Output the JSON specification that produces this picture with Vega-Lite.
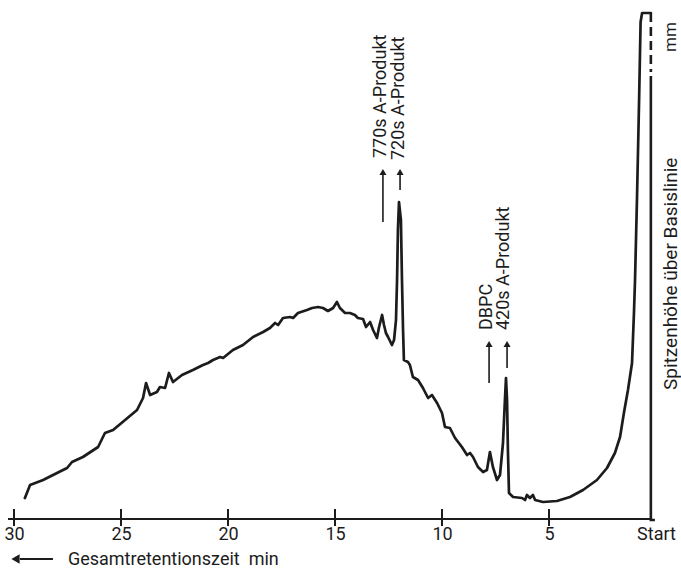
{
  "$schema": "https://vega.github.io/schema/vega-lite/v6.json",
  "width": 642,
  "height": 510,
  "autosize": "none",
  "padding": {"left": 14, "top": 9, "right": 25, "bottom": 51},
  "background": "white",
  "config": {"view": {"stroke": null}, "font": "Roboto"},
  "datasets": {
    "curve": [
      {"t": 29.49, "v": 21}, {"t": 29.25, "v": 34}, {"t": 28.64, "v": 39}, {"t": 27.99, "v": 46},
      {"t": 27.52, "v": 51}, {"t": 27.29, "v": 57}, {"t": 26.78, "v": 62}, {"t": 26.07, "v": 72},
      {"t": 25.75, "v": 86}, {"t": 25.37, "v": 89}, {"t": 24.81, "v": 99}, {"t": 24.25, "v": 109},
      {"t": 23.97, "v": 121}, {"t": 23.83, "v": 136}, {"t": 23.64, "v": 124}, {"t": 23.32, "v": 127},
      {"t": 23.18, "v": 132}, {"t": 22.94, "v": 131}, {"t": 22.76, "v": 146}, {"t": 22.57, "v": 137},
      {"t": 22.15, "v": 144}, {"t": 21.64, "v": 149}, {"t": 21.17, "v": 154}, {"t": 20.93, "v": 156},
      {"t": 20.7, "v": 159}, {"t": 20.37, "v": 162}, {"t": 20.23, "v": 161}, {"t": 19.77, "v": 169},
      {"t": 19.3, "v": 174}, {"t": 18.83, "v": 182}, {"t": 18.36, "v": 187}, {"t": 18.04, "v": 191},
      {"t": 17.8, "v": 196}, {"t": 17.66, "v": 194}, {"t": 17.43, "v": 201}, {"t": 17.1, "v": 202},
      {"t": 16.96, "v": 201}, {"t": 16.73, "v": 206}, {"t": 16.31, "v": 209}, {"t": 16.07, "v": 211},
      {"t": 15.79, "v": 212}, {"t": 15.56, "v": 211}, {"t": 15.33, "v": 208}, {"t": 15.09, "v": 211},
      {"t": 14.91, "v": 217}, {"t": 14.77, "v": 211}, {"t": 14.53, "v": 206}, {"t": 14.3, "v": 206},
      {"t": 14.07, "v": 204}, {"t": 13.93, "v": 201}, {"t": 13.69, "v": 200}, {"t": 13.55, "v": 192},
      {"t": 13.36, "v": 197}, {"t": 13.22, "v": 189}, {"t": 13.04, "v": 181}, {"t": 12.94, "v": 192},
      {"t": 12.8, "v": 204}, {"t": 12.71, "v": 194}, {"t": 12.62, "v": 186}, {"t": 12.52, "v": 182},
      {"t": 12.34, "v": 174}, {"t": 12.24, "v": 179}, {"t": 12.15, "v": 199}, {"t": 12.1, "v": 239},
      {"t": 12.06, "v": 289}, {"t": 12.01, "v": 317}, {"t": 11.92, "v": 299}, {"t": 11.87, "v": 239},
      {"t": 11.82, "v": 189}, {"t": 11.78, "v": 159}, {"t": 11.59, "v": 157}, {"t": 11.5, "v": 154},
      {"t": 11.36, "v": 142}, {"t": 11.12, "v": 139}, {"t": 10.89, "v": 131}, {"t": 10.65, "v": 121},
      {"t": 10.47, "v": 124}, {"t": 10.23, "v": 116}, {"t": 10.0, "v": 106}, {"t": 9.86, "v": 92},
      {"t": 9.63, "v": 91}, {"t": 9.39, "v": 81}, {"t": 9.07, "v": 72}, {"t": 8.83, "v": 64},
      {"t": 8.69, "v": 66}, {"t": 8.55, "v": 62}, {"t": 8.32, "v": 52}, {"t": 8.08, "v": 47},
      {"t": 7.9, "v": 49}, {"t": 7.76, "v": 67}, {"t": 7.62, "v": 52}, {"t": 7.43, "v": 39},
      {"t": 7.29, "v": 44}, {"t": 7.15, "v": 76}, {"t": 7.06, "v": 119}, {"t": 7.01, "v": 141},
      {"t": 6.96, "v": 119}, {"t": 6.92, "v": 69}, {"t": 6.87, "v": 26}, {"t": 6.68, "v": 22},
      {"t": 6.26, "v": 21}, {"t": 6.12, "v": 19}, {"t": 6.03, "v": 24}, {"t": 5.89, "v": 21},
      {"t": 5.75, "v": 24}, {"t": 5.65, "v": 19}, {"t": 5.28, "v": 17}, {"t": 4.63, "v": 18},
      {"t": 4.02, "v": 22}, {"t": 3.41, "v": 29}, {"t": 2.76, "v": 39}, {"t": 2.29, "v": 51},
      {"t": 1.92, "v": 66}, {"t": 1.68, "v": 82}, {"t": 1.5, "v": 106}, {"t": 1.31, "v": 129},
      {"t": 1.12, "v": 156}, {"t": 1.03, "v": 206}, {"t": 0.98, "v": 239}, {"t": 0.89, "v": 319},
      {"t": 0.79, "v": 419}, {"t": 0.72, "v": 497}, {"t": 0.65, "v": 506}, {"t": 0.24, "v": 506}
    ],
    "dashed": [{"t": 0.24, "v": 506}, {"t": 0.24, "v": 447}],
    "stem": [{"t": 0.24, "v": 443}, {"t": 0.24, "v": -1}, {"t": 0.05, "v": -1}],
    "axisline": [{"t": 30.28, "t2": 0.19, "v": 0}],
    "ticks": [
      {"t": 30, "v": -7, "v2": 10}, {"t": 25, "v": -7, "v2": 10}, {"t": 20, "v": -7, "v2": 10},
      {"t": 15, "v": -7, "v2": 10}, {"t": 10, "v": -7, "v2": 10}, {"t": 5, "v": -7, "v2": 10}
    ],
    "arrows": [
      {"t": 12.76, "v": 297, "v2": 345},
      {"t": 11.96, "v": 329, "v2": 345},
      {"t": 7.8, "v": 136, "v2": 173},
      {"t": 6.96, "v": 151, "v2": 173}
    ],
    "heads": [
      {"t": 12.76, "v": 347},
      {"t": 11.96, "v": 347},
      {"t": 7.8, "v": 175},
      {"t": 6.96, "v": 175}
    ],
    "labels": [
      {"t": 12.85, "v": 361, "label": "770s A-Produkt", "size": 18},
      {"t": 12.01, "v": 359, "label": "720s A-Produkt", "size": 18},
      {"t": 7.9, "v": 189, "label": "DBPC", "size": 18},
      {"t": 7.1, "v": 189, "label": "420s A-Produkt", "size": 18},
      {"t": -0.68, "v": 129, "label": "Spitzenhöhe über Basislinie", "size": 19},
      {"t": -0.68, "v": 467, "label": "mm", "size": 17}
    ],
    "xtitle": [{"t": 27.48, "v": -41, "label": "Gesamtretentionszeit\u00a0\u00a0min"}],
    "xarrow": [{"t": 29.72, "t2": 28.18, "v": -40}],
    "xhead": [{"t": 29.93, "v": -40}]
  },
  "layer": [
    {
      "data": {"name": "curve"},
      "mark": {"type": "line", "color": "#1c1c1c", "strokeWidth": 2.7, "strokeJoin": "round", "strokeCap": "round"},
      "encoding": {
        "x": {"field": "t", "type": "quantitative", "scale": {"domain": [0, 30], "reverse": true, "nice": false, "zero": false},
          "axis": {"values": [30, 25, 20, 15, 10, 5, 0], "labelExpr": "datum.value == 0 ? 'Start' : datum.label",
            "domain": false, "ticks": false, "tickSize": 0, "grid": false, "title": null, "labelPadding": 15,
            "labelBaseline": "middle", "labelFontSize": 18, "labelFont": "Roboto", "labelColor": "#1c1c1c",
            "labelFlush": false, "labelOverlap": false, "labelBound": false}},
        "y": {"field": "v", "type": "quantitative", "scale": {"domain": [0, 510], "nice": false, "zero": false}, "axis": null},
        "order": {"value": null}
      }
    },
    {
      "data": {"name": "dashed"},
      "mark": {"type": "line", "color": "#1c1c1c", "strokeWidth": 2.6, "strokeDash": [9, 5]},
      "encoding": {
        "x": {"field": "t", "type": "quantitative"},
        "y": {"field": "v", "type": "quantitative", "axis": null},
        "order": {"value": null}
      }
    },
    {
      "data": {"name": "stem"},
      "mark": {"type": "line", "color": "#1c1c1c", "strokeWidth": 2.6},
      "encoding": {
        "x": {"field": "t", "type": "quantitative"},
        "y": {"field": "v", "type": "quantitative", "axis": null},
        "order": {"value": null}
      }
    },
    {
      "data": {"name": "axisline"},
      "mark": {"type": "rule", "color": "#1c1c1c", "strokeWidth": 2.2},
      "encoding": {
        "x": {"field": "t", "type": "quantitative"},
        "x2": {"field": "t2"},
        "y": {"field": "v", "type": "quantitative", "axis": null}
      }
    },
    {
      "data": {"name": "ticks"},
      "mark": {"type": "rule", "color": "#1c1c1c", "strokeWidth": 2},
      "encoding": {
        "x": {"field": "t", "type": "quantitative"},
        "y": {"field": "v", "type": "quantitative", "axis": null},
        "y2": {"field": "v2"}
      }
    },
    {
      "data": {"name": "arrows"},
      "mark": {"type": "rule", "color": "#1c1c1c", "strokeWidth": 1.6},
      "encoding": {
        "x": {"field": "t", "type": "quantitative"},
        "y": {"field": "v", "type": "quantitative", "axis": null},
        "y2": {"field": "v2"}
      }
    },
    {
      "data": {"name": "heads"},
      "mark": {"type": "point", "shape": "triangle-up", "filled": true, "color": "#1c1c1c", "size": 50, "opacity": 1},
      "encoding": {
        "x": {"field": "t", "type": "quantitative"},
        "y": {"field": "v", "type": "quantitative", "axis": null}
      }
    },
    {
      "data": {"name": "labels"},
      "mark": {"type": "text", "angle": 270, "align": "left", "baseline": "middle", "font": "Roboto", "color": "#1c1c1c"},
      "encoding": {
        "x": {"field": "t", "type": "quantitative"},
        "y": {"field": "v", "type": "quantitative", "axis": null},
        "text": {"field": "label"},
        "size": {"field": "size", "type": "quantitative", "scale": null, "legend": null}
      }
    },
    {
      "data": {"name": "xtitle"},
      "mark": {"type": "text", "align": "left", "baseline": "middle", "font": "Roboto", "fontSize": 18, "color": "#1c1c1c"},
      "encoding": {
        "x": {"field": "t", "type": "quantitative"},
        "y": {"field": "v", "type": "quantitative", "axis": null},
        "text": {"field": "label"}
      }
    },
    {
      "data": {"name": "xarrow"},
      "mark": {"type": "rule", "color": "#1c1c1c", "strokeWidth": 2},
      "encoding": {
        "x": {"field": "t", "type": "quantitative"},
        "x2": {"field": "t2"},
        "y": {"field": "v", "type": "quantitative", "axis": null}
      }
    },
    {
      "data": {"name": "xhead"},
      "mark": {"type": "point", "shape": "triangle-left", "filled": true, "color": "#1c1c1c", "size": 90, "opacity": 1},
      "encoding": {
        "x": {"field": "t", "type": "quantitative"},
        "y": {"field": "v", "type": "quantitative", "axis": null}
      }
    }
  ]
}
